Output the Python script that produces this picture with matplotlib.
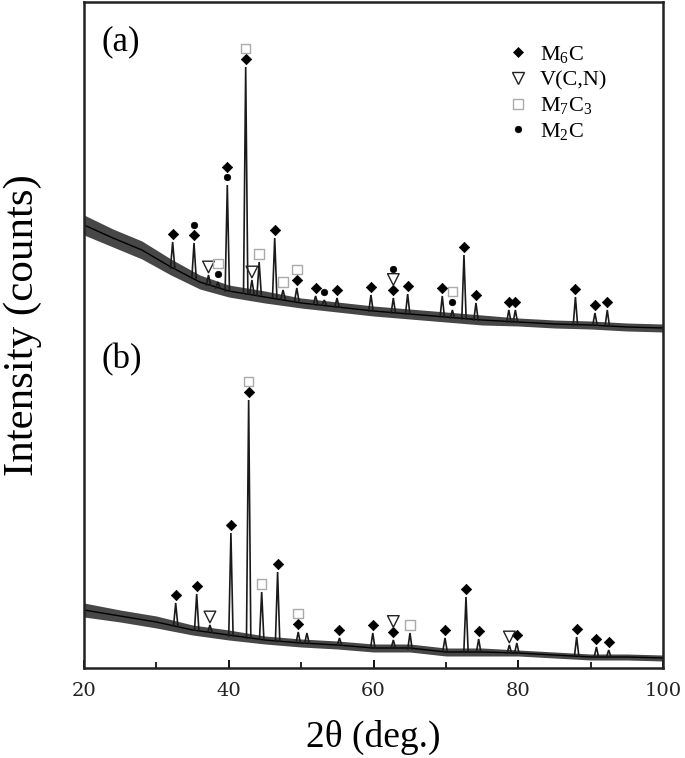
import numpy as np
import matplotlib
matplotlib.use("Agg")
import matplotlib.pyplot as plt
from matplotlib.ticker import MultipleLocator
from matplotlib.lines import Line2D

plt.rcParams['font.family'] = ['Liberation Serif', 'DejaVu Serif']
plt.rcParams['mathtext.fontset'] = 'custom'
plt.rcParams['mathtext.rm'] = 'Liberation Serif'
plt.rcParams['mathtext.it'] = 'Liberation Serif:italic'

# ---------------- data (arbitrary intensity units) ----------------
# pattern (a): background and noise envelope
bg_a_x = [20, 24, 28, 32, 36, 40, 45, 50, 55, 60, 65, 70, 75, 80, 85, 90, 95, 100]
bg_a_y = [443, 430, 418, 401, 386, 377, 371, 365, 361, 357, 354, 351, 348, 346, 344, 343, 341, 340]
noise_a = [10, 9, 9, 8, 7, 6, 6, 5, 5, 5, 5, 5, 5, 4, 4, 4, 4, 4]

# pattern (a): peaks (2theta, top intensity, base intensity)
pk_a_x = [32.25, 35.2, 37.2, 38.5, 39.8, 42.34, 43.2, 44.2, 46.35, 47.5, 49.4, 52.0,
          53.2, 54.96, 59.65, 62.74, 64.72, 69.5, 70.9, 72.5, 74.16, 78.7, 79.6,
          87.9, 90.6, 92.3]
pk_a_top = [426, 425, 393, 386, 483, 601, 388, 406, 430, 378, 380, 372,
            368, 370, 373, 370, 374, 372, 358, 413, 365, 358, 358,
            371, 355, 358]
pk_a_base = [400, 390, 383, 380, 377, 375, 374, 373, 371, 369, 367, 364,
             363, 361, 357, 355, 354, 351, 350, 349, 348, 346, 346,
             343, 343, 342]

# pattern (b): background and noise envelope
bg_b_x = [20, 25, 30, 35, 40, 45, 50, 55, 60, 65, 70, 75, 80, 85, 90, 95, 100]
bg_b_y = [58, 52, 46, 38, 33, 28, 25, 23, 20, 20, 16, 16, 15, 13, 11, 11, 10]
noise_b = [7, 6, 6, 5, 5, 4, 4, 4, 4, 4, 4, 4, 3, 3, 3, 3, 3]

# pattern (b): peaks
pk_b_x = [32.67, 35.57, 37.4, 40.3, 42.75, 44.55, 46.75, 49.6, 50.8, 55.3, 59.9,
          62.74, 65.04, 69.88, 72.78, 74.53, 78.77, 79.8, 88.07, 90.8, 92.5]
pk_b_top = [65, 74, 43, 135, 268, 76, 96, 36, 35, 30, 35,
            28, 35, 30, 71, 29, 23, 25, 31, 21, 18]
pk_b_base = [42, 38, 36, 32, 30, 29, 27, 25, 25, 23, 20,
             20, 19, 17, 16, 16, 15, 15, 12, 11, 11]

# phase identification: (2theta, stacking level) per pattern
phases = ['M6C', 'V(C,N)', 'M7C3', 'M2C']
phase_labels = [r'$\mathrm{M_6C}$', 'V(C,N)', r'$\mathrm{M_7C_3}$', r'$\mathrm{M_2C}$']
marks_a = {
    'M6C': [(32.25, 0), (35.2, 0), (39.8, 1), (42.34, 0), (46.35, 0), (49.4, 0), (52.0, 0),
            (54.96, 0), (59.65, 0), (62.74, 0), (64.72, 0), (69.5, 0), (72.5, 0), (74.16, 0),
            (78.7, 0), (79.6, 0), (87.9, 0), (90.6, 0), (92.3, 0)],
    'V(C,N)': [(37.2, 0), (43.2, 0), (62.74, 1)],
    'M7C3': [(38.5, 1), (42.34, 1), (44.2, 0), (47.5, 0), (49.4, 1), (70.9, 1)],
    'M2C': [(35.2, 1), (38.5, 0), (39.8, 0), (53.2, 0), (62.74, 2), (70.9, 0)],
}
marks_b = {
    'M6C': [(32.67, 0), (35.57, 0), (40.3, 0), (42.75, 0), (46.75, 0), (49.6, 0), (55.3, 0),
            (59.9, 0), (62.74, 0), (69.88, 0), (72.78, 0), (74.53, 0), (79.8, 0), (88.07, 0),
            (90.8, 0), (92.5, 0)],
    'V(C,N)': [(37.4, 0), (62.74, 1), (78.77, 0)],
    'M7C3': [(42.75, 1), (44.55, 0), (49.6, 1), (65.04, 0)],
    'M2C': [],
}

xticks = [20, 40, 60, 80, 100]

# ---------------- styling ----------------
styles = {
    'M6C': dict(marker='D', s=28, facecolors='black', edgecolors='black', linewidths=0.5),
    'V(C,N)': dict(marker='v', s=70, facecolors='none', edgecolors='#222222', linewidths=1.0),
    'M7C3': dict(marker='s', s=48, facecolors='none', edgecolors='#aaaaaa', linewidths=1.0),
    'M2C': dict(marker='o', s=22, facecolors='black', edgecolors='black', linewidths=0.5),
}
PEAK_HALF_WIDTH = 0.3
GAP = 8
STEP = 10.5

fig = plt.figure(figsize=(6.85, 7.58), dpi=100)
ax = fig.add_axes([84 / 685, 90 / 758, 579 / 685, 666 / 758])


def draw_pattern(bx, by, nz, px, ptop, pbase, marks):
    bx = np.asarray(bx); by = np.asarray(by); nz = np.asarray(nz)
    ax.fill_between(bx, by - nz, by + nz, color='black', alpha=0.72, lw=0)
    ax.plot(bx, by, color='black', lw=1.0)
    for x, t, b in zip(px, ptop, pbase):
        ax.plot([x - PEAK_HALF_WIDTH, x, x + PEAK_HALF_WIDTH], [b, t, b],
                color='#1a1a1a', lw=1.2, solid_joinstyle='miter')
    px = np.asarray(px)
    for ph in phases:
        pts = marks[ph]
        if not pts:
            continue
        xs = [p[0] for p in pts]
        ys = [ptop[int(np.argmin(np.abs(px - p[0])))] + GAP + p[1] * STEP for p in pts]
        ax.scatter(xs, ys, zorder=5, **styles[ph])


draw_pattern(bg_a_x, bg_a_y, noise_a, pk_a_x, pk_a_top, pk_a_base, marks_a)
draw_pattern(bg_b_x, bg_b_y, noise_b, pk_b_x, pk_b_top, pk_b_base, marks_b)

ax.set_xlim(20, 100)
ax.set_ylim(0, 666)
ax.set_xticks(xticks)
ax.xaxis.set_minor_locator(MultipleLocator(10))
ax.set_yticks([])
ax.tick_params(axis='x', which='major', direction='in', length=6, width=1.3, pad=10,
               labelsize=14, labelfontfamily='DejaVu Serif', labelcolor='#222222')
ax.tick_params(axis='x', which='minor', direction='in', length=4, width=1.2)
for sp in ax.spines.values():
    sp.set_linewidth(1.8)
    sp.set_color('#222222')

ax.set_xlabel('2θ (deg.)', fontsize=27)
ax.xaxis.set_label_coords(0.5, -0.078)
ax.set_ylabel('Intensity (counts)', fontsize=31)
ax.yaxis.set_label_coords(-0.072, 0.515)

ax.text(0.031, 0.94, '(a)', transform=ax.transAxes, fontsize=25, va='center', ha='left')
ax.text(0.031, 0.4625, '(b)', transform=ax.transAxes, fontsize=25, va='center', ha='left')

handles = []
for ph in phases:
    st = styles[ph]
    handles.append(Line2D([], [], ls='none', marker=st['marker'],
                          markersize=np.sqrt(st['s']),
                          markerfacecolor=st['facecolors'], markeredgecolor=st['edgecolors'],
                          markeredgewidth=st['linewidths']))
ax.legend(handles, phase_labels, loc='upper left', bbox_to_anchor=(0.735, 0.937),
          frameon=False, fontsize=16, handlelength=0.8, handletextpad=0.55,
          labelspacing=0.22, borderpad=0, borderaxespad=0)

fig.savefig('out.png', dpi=100)
